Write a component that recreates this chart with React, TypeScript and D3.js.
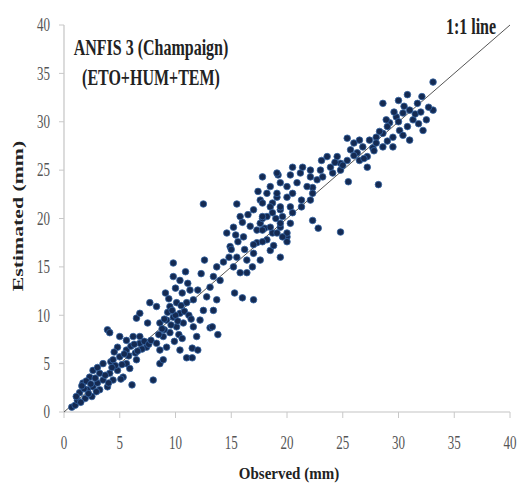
import React from "react";
import * as d3 from "d3";

const W = 519;
const H = 486;

const xTicks = [0, 5, 10, 15, 20, 25, 30, 35, 40];
const yTicks = [0, 5, 10, 15, 20, 25, 30, 35, 40];

const titleLines = ["ANFIS 3 (Champaign)", "(ETO+HUM+TEM)"];
const lineLabel = "1:1 line";
const xLabel = "Observed (mm)";
const yLabel = "Estimated (mm)";

// Observed (x) values
const observed = [
  // near origin
  0.7, 1.0, 1.2, 1.4, 1.7, 1.9, 2.1, 2.3, 2.5, 2.6, 2.6, 3.0, 3.2, 3.2, 3.5, 3.5, 3.9, 4.1, 4.4, 1.5, 1.8, 2.0, 2.2, 2.8, 3.0, 1.6, 2.4, 2.9, 1.1, 3.7, 4.0, 4.2,
  3.9, 4.1,
  // 4-8
  4.4, 4.8, 4.8, 5.0, 5.0, 5.3, 5.6, 5.6, 5.6, 6.1, 6.2, 6.4, 6.5, 6.8, 6.8, 7.4, 4.6, 5.2, 5.8, 6.0, 6.3, 7.0, 7.2, 4.5, 5.4, 5.9, 6.6, 7.6, 4.3, 5.1, 7.8,
  6.5, 6.8, 7.5, 7.7, 8.3, 8.0,
  // 8-14
  8.3, 8.6, 8.6, 8.6, 8.9, 8.9, 9.1, 9.2, 9.2, 9.5, 9.5, 9.8, 9.8, 9.8, 10.1, 10.1, 10.4, 10.4, 10.4, 10.6, 10.7, 10.9, 11.0, 11.0, 11.1, 11.3, 11.5, 11.5, 11.6, 11.6, 11.9, 12.0, 12.2, 12.5, 12.6, 12.8, 13.1, 13.1, 13.3, 13.4, 13.4, 13.7, 13.7, 13.8, 14.0,
  9.0, 9.3, 9.6, 10.0, 10.2, 10.5, 9.7, 10.8, 11.2, 9.4, 10.0, 8.8, 9.9, 10.3, 11.4, 12.0, 12.3, 8.5, 9.0, 10.6,
  12.5,
  // 14-20
  14.3, 14.6, 14.9, 15.2, 15.2, 15.3, 15.5, 15.5, 15.8, 15.8, 16.0, 16.1, 16.4, 16.4, 17.0, 17.0, 17.0, 17.3, 17.6, 17.6, 17.6, 18.2, 18.2, 18.2, 18.5, 18.7, 18.7, 19.1, 19.4, 19.4, 19.4, 20.0, 20.0, 17.0, 20.0,
  15.0, 15.6, 16.2, 16.7, 17.3, 16.9, 15.4, 14.8, 16.5, 17.8, 18.0, 19.0, 17.4, 16.0, 18.8,
  // 18-25
  17.8, 19.2, 20.3, 20.5, 21.2, 21.4, 22.1, 22.1, 22.7, 23.0, 23.2, 24.1, 23.1, 23.6, 23.9, 24.5, 24.8, 24.8, 25.5, 22.3, 21.8, 20.9, 20.0, 19.4, 18.5, 19.1, 20.5, 21.3, 22.1, 22.3, 21.3, 20.3, 19.4, 18.5, 17.8, 17.8, 18.7, 19.6, 20.5, 20.3, 19.4, 18.5, 17.8, 19.1, 20.0, 19.6, 17.8, 22.3, 22.8, 24.8, 19.1,
  // 25-33
  33.1, 33.1, 32.2, 32.5, 32.1, 30.8, 30.0, 28.6, 31.7, 31.0, 30.4, 29.8, 29.2, 29.0, 31.3, 30.8, 30.1, 31.0, 30.4, 29.5, 28.6, 28.0, 27.4, 29.5, 28.6, 27.7, 26.8, 26.5, 25.4, 26.0, 25.7, 26.3, 26.5, 27.2, 27.2, 25.4, 28.2, 32.7, 31.5, 30.5, 29.6, 28.9, 28.3, 27.8, 26.9, 32.0, 31.8, 30.0, 29.0, 28.0, 26.0, 25.0, 24.3,
];

// Estimated (y) values
const estimated = [
  0.5, 0.7, 1.2, 2.0, 3.0, 1.4, 2.3, 3.6, 1.6, 2.6, 4.3, 3.0, 2.3, 4.0, 3.3, 5.0, 2.6, 4.0, 3.3, 1.0, 2.4, 3.2, 1.9, 3.5, 4.6, 2.7, 2.9, 2.1, 1.6, 3.8, 3.0, 5.2,
  8.5, 8.2,
  5.4, 4.3, 6.7, 5.7, 7.8, 3.6, 5.0, 6.4, 7.4, 2.8, 7.8, 6.1, 5.4, 7.1, 7.8, 6.7, 4.8, 4.9, 5.8, 6.8, 7.0, 6.5, 7.3, 6.2, 6.0, 4.5, 6.3, 7.0, 4.6, 3.4, 7.4,
  9.7, 10.2, 9.2, 11.3, 10.9, 3.3,
  7.1, 5.0, 6.4, 9.2, 5.4, 7.8, 12.3, 6.7, 9.5, 8.2, 10.9, 9.8, 14.0, 15.4, 8.8, 11.3, 6.4, 10.2, 13.6, 12.3, 9.2, 14.5, 5.6, 11.3, 13.3, 12.6, 5.6, 6.6, 8.8, 11.6, 7.8, 6.4, 9.5, 10.5, 15.7, 11.9, 8.7, 12.9, 8.8, 10.5, 14.0, 11.6, 15.0, 8.0, 13.6,
  8.5, 10.3, 9.0, 10.0, 9.4, 11.0, 10.5, 10.4, 10.0, 11.7, 12.8, 8.6, 7.3, 8.0, 9.6, 12.6, 14.3, 8.0, 9.6, 7.6,
  21.5,
  15.5, 18.5, 17.1, 19.1, 15.0, 12.3, 16.0, 21.5, 20.2, 14.4, 11.8, 18.1, 15.7, 14.4, 16.4, 20.9, 11.6, 17.5, 15.7, 19.5, 21.9, 17.8, 20.2, 22.6, 16.7, 18.5, 21.6, 22.2, 19.1, 20.9, 16.0, 18.1, 22.2, 17.3, 17.6,
  16.8, 17.6, 16.8, 19.2, 18.8, 15.0, 18.3, 16.0, 20.4, 20.0, 19.0, 20.0, 22.8, 19.6, 17.2,
  24.3, 24.5, 24.5, 25.3, 24.7, 25.3, 25.0, 24.3, 24.0, 25.0, 24.3, 24.7, 26.0, 26.4, 25.3, 26.4, 25.7, 25.0, 23.8, 23.2, 23.3, 23.7, 23.3, 23.7, 23.3, 22.6, 22.6, 21.9, 21.9, 22.6, 21.2, 21.2, 21.2, 21.2, 21.6, 20.2, 20.6, 20.2, 20.6, 19.5, 19.5, 19.1, 18.8, 18.5, 18.5, 18.1, 17.6, 19.8, 19.0, 18.6, 24.7,
  34.1, 31.2, 29.1, 30.2, 32.6, 32.8, 32.2, 31.9, 31.9, 31.2, 30.9, 30.5, 29.9, 29.5, 30.2, 29.5, 29.1, 28.1, 28.6, 28.4, 28.8, 28.4, 28.1, 27.4, 27.4, 27.3, 27.4, 28.1, 28.3, 27.8, 27.1, 26.8, 26.0, 26.4, 25.3, 26.0, 23.5, 31.5, 30.8, 31.6, 31.0, 30.2, 29.0, 27.0, 26.2, 31.0, 29.8, 30.0, 28.0, 27.8, 26.5, 25.5, 25.8,
];

const points = observed.map((o, i) => ({ o, e: estimated[i] }));

const STRETCH = 1.4;
const FONT = "'Liberation Serif', 'Times New Roman', serif";

export default function App() {
  const x = d3.scaleLinear().domain([0, 40]).range([64, 510]);
  const y = d3.scaleLinear().domain([0, 40]).range([412, 25]);
  const line = d3.line<[number, number]>().x((d) => x(d[0])).y((d) => y(d[1]));

  const txt = (
    content: string,
    cx: number,
    cy: number,
    size: number,
    opts: { bold?: boolean; anchor?: string; fill?: string; rotate?: boolean; stretch?: number } = {}
  ) => (
    <text
      key={content + cx + cy}
      transform={`translate(${cx},${cy}) scale(1,${opts.stretch ?? STRETCH})${opts.rotate ? " rotate(-90)" : ""}`}
      textAnchor={opts.anchor || "middle"}
      dominantBaseline="central"
      fontFamily={FONT}
      fontSize={size}
      fontWeight={opts.bold ? "bold" : "normal"}
      fill={opts.fill || "#222"}
    >
      {content}
    </text>
  );

  return (
    <svg
      width={W}
      height={H}
      style={{ position: "absolute", left: 0, top: 0, background: "#fff" }}
    >
      <rect x={0} y={0} width={W} height={H} fill="#fff" />
      {/* axes */}
      <line x1={x(0)} x2={x(40)} y1={y(0)} y2={y(0)} stroke="#c4c4c4" strokeWidth={1.2} />
      <line x1={x(0)} x2={x(0)} y1={y(0)} y2={y(40)} stroke="#c4c4c4" strokeWidth={1.2} />
      {xTicks.map((t) => (
        <line key={"xt" + t} x1={x(t)} x2={x(t)} y1={y(0)} y2={y(0) + 6} stroke="#c8c8c8" />
      ))}
      {yTicks.map((t) => (
        <line key={"yt" + t} x1={x(0) - 5} x2={x(0)} y1={y(t)} y2={y(t)} stroke="#c8c8c8" />
      ))}
      {xTicks.map((t) => txt(String(t), x(t), 443, 13, { fill: "#555" }))}
      {yTicks.map((t) => txt(String(t), 50, y(t), 13, { anchor: "end", fill: "#555" }))}
      {/* 1:1 line */}
      <path d={line([[0, 0], [40, 40]]) || ""} stroke="#555" strokeWidth={1} fill="none" />
      {/* points */}
      {points.map((p, i) => (
        <circle
          key={i}
          cx={x(p.o)}
          cy={y(p.e)}
          r={3.3}
          fill="#142a52"
          stroke="#3565a3"
          strokeWidth={0.8}
        />
      ))}
      {/* labels */}
      {txt(titleLines[0], 151, 48, 16, { bold: true })}
      {txt(titleLines[1], 151, 78, 16, { bold: true })}
      {txt(lineLabel, 471, 27, 16, { bold: true })}
      {txt(xLabel, 289, 473, 15, { bold: true, stretch: 1.1 })}
      {txt(yLabel, 18, 216, 15, { bold: true, rotate: true, stretch: 1.45 })}
    </svg>
  );
}
